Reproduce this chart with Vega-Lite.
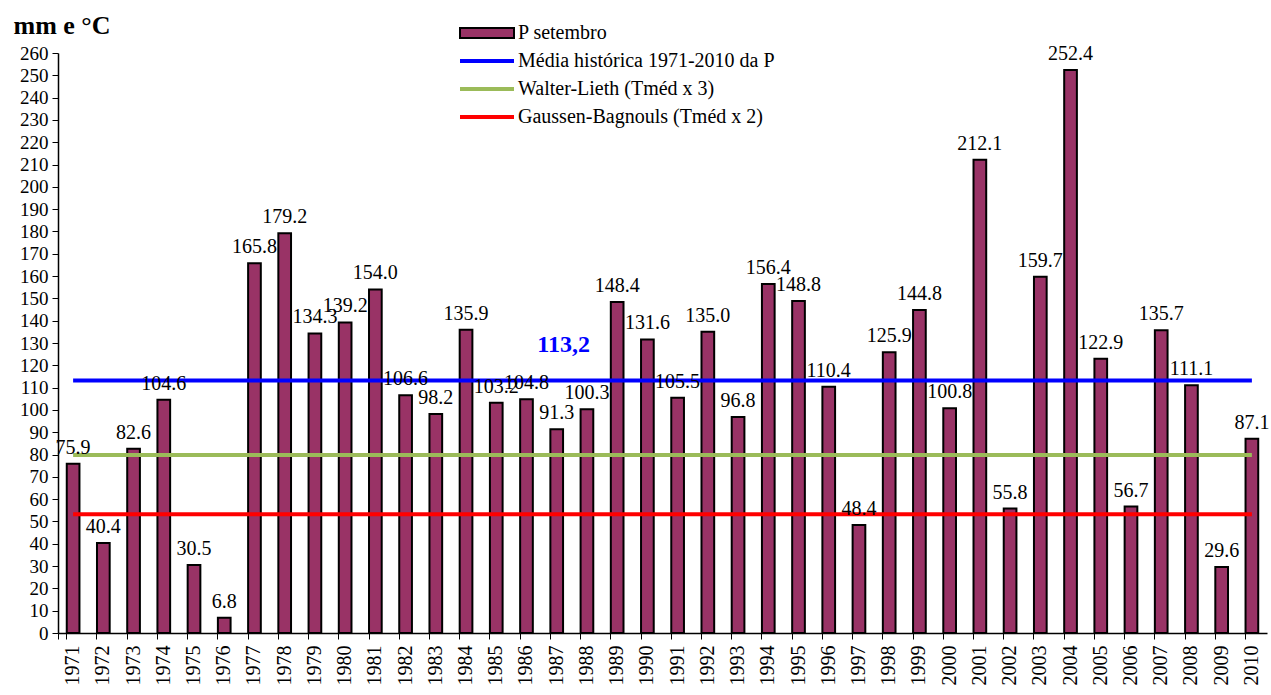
{
  "$schema": "https://vega.github.io/schema/vega-lite/v6.json",
  "width": 1209,
  "height": 580,
  "autosize": {"type": "none"},
  "padding": {"left": 58, "top": 53, "right": 4, "bottom": 62},
  "config": {
    "font": "Liberation Serif",
    "view": {"stroke": null},
    "text": {"font": "Liberation Serif"},
    "axis": {"labelFont": "Liberation Serif", "titleFont": "Liberation Serif", "labelColor": "black", "domainColor": "black", "tickColor": "black", "grid": false, "labelFontSize": 20},
    "legend": {"labelFont": "Liberation Serif", "labelFontSize": 20, "labelColor": "black", "labelLimit": 0}
  },
  "datasets": {
    "bars": [
      {"year": "1971", "P": 75.9}, {"year": "1972", "P": 40.4}, {"year": "1973", "P": 82.6}, {"year": "1974", "P": 104.6},
      {"year": "1975", "P": 30.5}, {"year": "1976", "P": 6.8}, {"year": "1977", "P": 165.8}, {"year": "1978", "P": 179.2},
      {"year": "1979", "P": 134.3}, {"year": "1980", "P": 139.2}, {"year": "1981", "P": 154.0}, {"year": "1982", "P": 106.6},
      {"year": "1983", "P": 98.2}, {"year": "1984", "P": 135.9}, {"year": "1985", "P": 103.2}, {"year": "1986", "P": 104.8},
      {"year": "1987", "P": 91.3}, {"year": "1988", "P": 100.3}, {"year": "1989", "P": 148.4}, {"year": "1990", "P": 131.6},
      {"year": "1991", "P": 105.5}, {"year": "1992", "P": 135.0}, {"year": "1993", "P": 96.8}, {"year": "1994", "P": 156.4},
      {"year": "1995", "P": 148.8}, {"year": "1996", "P": 110.4}, {"year": "1997", "P": 48.4}, {"year": "1998", "P": 125.9},
      {"year": "1999", "P": 144.8}, {"year": "2000", "P": 100.8}, {"year": "2001", "P": 212.1}, {"year": "2002", "P": 55.8},
      {"year": "2003", "P": 159.7}, {"year": "2004", "P": 252.4}, {"year": "2005", "P": 122.9}, {"year": "2006", "P": 56.7},
      {"year": "2007", "P": 135.7}, {"year": "2008", "P": 111.1}, {"year": "2009", "P": 29.6}, {"year": "2010", "P": 87.1}
    ],
    "lines": [
      {"name": "Média histórica 1971-2010 da P", "P": 113.2, "start": "1971", "end": "2010"},
      {"name": "Walter-Lieth (Tméd x 3)", "P": 79.8, "start": "1971", "end": "2010"},
      {"name": "Gaussen-Bagnouls (Tméd x 2)", "P": 53.2, "start": "1971", "end": "2010"}
    ],
    "mean": [{"label": "113,2", "P": 113.2, "year": "1987"}]
  },
  "encoding": {
    "y": {"field": "P", "type": "quantitative", "scale": {"domain": [0, 260], "nice": false},
          "axis": {"values": [0,10,20,30,40,50,60,70,80,90,100,110,120,130,140,150,160,170,180,190,200,210,220,230,240,250,260],
                   "labelOverlap": false, "labelSeparation": 0, "labelFont": "Liberation Serif", "labelFontSize": 19,
                   "title": "mm e °C", "titleFont": "Liberation Serif", "titleAngle": 0, "titleAlign": "left", "titleBaseline": "alphabetic", "titleX": -45, "titleY": -20,
                   "titleFontSize": 26, "titleFontWeight": "bold", "titleColor": "black", "tickSize": 6, "labelPadding": 4, "domainWidth": 1.5}}
  },
  "layer": [
    {
      "data": {"name": "bars"},
      "mark": {"type": "bar", "stroke": "black", "strokeWidth": 2},
      "encoding": {
        "x": {"field": "year", "type": "nominal", "scale": {"paddingInner": 0.58, "paddingOuter": 0.29},
              "axis": {"title": null, "labelAngle": -90, "labelPadding": 6, "bandPosition": 0, "tickExtra": true, "tickSize": 6, "domainWidth": 1.5,
                       "labelFont": "Liberation Serif", "labelFontSize": 20}},
        "fill": {"datum": "P setembro", "type": "nominal",
                 "scale": {"domain": ["P setembro"], "range": ["#993366"]},
                 "legend": {"title": null, "orient": "none", "legendX": 419, "legendY": -30, "padding": 0, "labelLimit": 0,
                            "symbolType": "M-5.4,-1H5.4V1H-5.4Z", "symbolSize": 100, "symbolStrokeColor": "black", "symbolStrokeWidth": 2, "labelOffset": 21}}
      }
    },
    {
      "data": {"name": "lines"},
      "mark": {"type": "rule", "strokeWidth": 4},
      "encoding": {
        "x": {"field": "start", "type": "nominal"},
        "x2": {"field": "end"},
        "color": {"field": "name", "type": "nominal",
                  "scale": {"domain": ["Média histórica 1971-2010 da P", "Walter-Lieth (Tméd x 3)", "Gaussen-Bagnouls (Tméd x 2)"], "range": ["#0000FF", "#9BBB59", "#FF0000"]},
                  "legend": {"title": null, "orient": "none", "legendX": 419, "legendY": -2, "padding": 0, "rowPadding": 8, "labelLimit": 0,
                             "symbolType": "M-5.4,0H5.4", "symbolSize": 100, "symbolStrokeWidth": 4, "labelOffset": 21}}
      }
    },
    {
      "data": {"name": "bars"},
      "mark": {"type": "text", "baseline": "bottom", "dy": -6, "fontSize": 20, "color": "black", "font": "Liberation Serif"},
      "encoding": {
        "x": {"field": "year", "type": "nominal"},
        "text": {"field": "P", "type": "quantitative", "format": ".1f"}
      }
    },
    {
      "data": {"name": "mean"},
      "mark": {"type": "text", "baseline": "alphabetic", "dy": -28, "dx": 7, "fontSize": 24, "fontWeight": "bold", "color": "#0000FF", "font": "Liberation Serif"},
      "encoding": {
        "x": {"field": "year", "type": "nominal"},
        "text": {"field": "label"}
      }
    }
  ]
}
